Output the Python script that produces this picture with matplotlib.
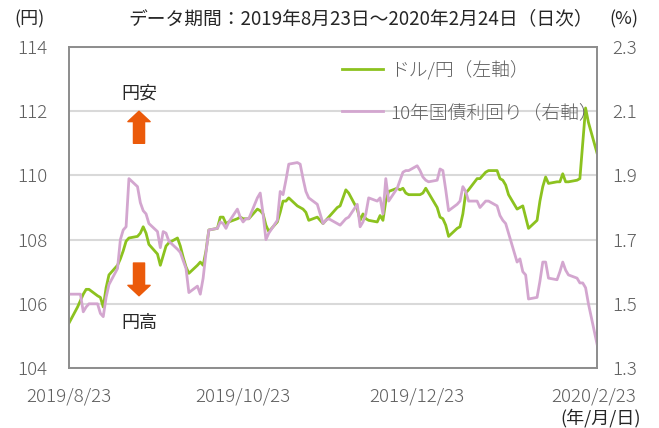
import matplotlib
matplotlib.use('Agg')
import matplotlib.pyplot as plt
import pandas as pd

# Set text format
plt.rcParams['font.family'] = ['Noto Sans CJK JP', 'DejaVu Sans']
plt.rcParams['font.size'] = 13

# Daily (weekday) data, 2019/8/23 - 2020/2/24
start_date = '2019-08-23'
end_date = '2020-02-24'

# USD/JPY (left axis), one row per week
usdjpy = [105.4,
          105.9, 106.1, 106.3, 106.45, 106.45,
          106.25, 106.2, 105.9, 106.5, 106.9,
          107.2, 107.4, 107.65, 107.95, 108.05,
          108.1, 108.2, 108.4, 108.2, 107.85,
          107.55, 107.2, 107.5, 107.8, 107.9,
          108.05, 107.8, 107.45, 107.15, 106.95,
          107.2, 107.3, 107.2, 107.65, 108.3,
          108.35, 108.7, 108.7, 108.5, 108.55,
          108.65, 108.7, 108.65, 108.65, 108.65,
          108.95, 108.9, 108.8, 108.45, 108.25,
          108.55, 108.85, 109.2, 109.2, 109.3,
          109.05, 109.0, 108.95, 108.85, 108.6,
          108.7, 108.6, 108.5, 108.6, 108.7,
          109.0, 109.05, 109.3, 109.55, 109.45,
          108.95, 108.6, 108.8, 108.65, 108.6,
          108.55, 108.75, 108.6, 109.2, 109.5,
          109.6, 109.55, 109.6, 109.45, 109.4,
          109.4, 109.4, 109.45, 109.6, 109.45,
          109.0, 108.7, 108.65, 108.45, 108.1,
          108.35, 108.4, 108.8, 109.45, 109.55,
          109.9, 109.9, 110.0, 110.1, 110.15,
          110.15, 109.9, 109.85, 109.7, 109.4,
          108.95, 109.0, 109.05, 108.7, 108.35,
          108.6, 109.2, 109.65, 109.95, 109.75,
          109.8, 109.8, 110.05, 109.8, 109.8,
          109.85, 109.9, 111.0, 112.1, 111.65,
          110.7]

# 10-year bond yield in % (right axis)
yield10 = [1.53,
           1.53, 1.53, 1.475, 1.49, 1.50,
           1.50, 1.47, 1.46, 1.52, 1.56,
           1.61, 1.70, 1.73, 1.74, 1.89,
           1.865, 1.815, 1.79, 1.78, 1.75,
           1.725, 1.675, 1.725, 1.72, 1.695,
           1.67, 1.66, 1.635, 1.61, 1.535,
           1.555, 1.53, 1.58, 1.66, 1.73,
           1.735, 1.755, 1.75, 1.735, 1.755,
           1.795, 1.77, 1.755, 1.765, 1.765,
           1.83, 1.845, 1.78, 1.70, 1.72,
           1.76, 1.85, 1.84, 1.885, 1.935,
           1.94, 1.935, 1.89, 1.85, 1.83,
           1.81, 1.78, 1.75, 1.76, 1.765,
           1.75, 1.745, 1.755, 1.765, 1.77,
           1.81, 1.74, 1.755, 1.78, 1.83,
           1.82, 1.83, 1.78, 1.89, 1.82,
           1.86, 1.885, 1.91, 1.915, 1.915,
           1.93, 1.915, 1.895, 1.885, 1.88,
           1.885, 1.92, 1.915, 1.855, 1.79,
           1.81, 1.82, 1.865, 1.85, 1.82,
           1.82, 1.80, 1.81, 1.82, 1.82,
           1.805, 1.775, 1.76, 1.75, 1.72,
           1.63, 1.64, 1.60, 1.59, 1.515,
           1.52, 1.57, 1.63, 1.63, 1.58,
           1.575, 1.60, 1.63, 1.605, 1.59,
           1.58, 1.565, 1.565, 1.55, 1.50,
           1.375]

dates = pd.bdate_range(start_date, end_date)

x_ticks = ['2019-08-23', '2019-10-23', '2019-12-23', '2020-02-23']
x_tick_labels = ['2019/8/23', '2019/10/23', '2019/12/23', '2020/2/23']
left_ticks = [104, 106, 108, 110, 112, 114]
right_ticks = [1.3, 1.5, 1.7, 1.9, 2.1, 2.3]

green = '#8cc21f'
pink = '#d3a6cf'
arrow_col = '#eb5a0a'
grey_txt = '#5f5f5f'
dark_txt = '#262626'

fig = plt.figure(figsize=(6.59, 4.28), dpi=100)
ax = fig.add_axes([69/659, 60/428, 528/659, 321/428])
ax2 = ax.twinx()

ax.set_axisbelow(True)
ax.grid(axis='y', color='#d9d9d9', linewidth=1.5)
l1, = ax.plot(dates, usdjpy, color=green, linewidth=2.0, label='ドル/円（左軸）')
l2, = ax2.plot(dates, yield10, color=pink, linewidth=2.0, label='10年国債利回り（右軸）')

ax.set_xlim(pd.Timestamp(start_date), pd.Timestamp(end_date))
ax.set_ylim(104, 114)
ax2.set_ylim(1.3, 2.3)
ax.set_yticks(left_ticks)
ax.set_yticklabels([str(t) for t in left_ticks])
ax2.set_yticks(right_ticks)
ax2.set_yticklabels(['%.1f' % t for t in right_ticks])
ax.set_xticks(pd.to_datetime(x_ticks))
ax.set_xticklabels(x_tick_labels)

ax.tick_params(axis='y', length=0, pad=15.5, labelcolor=grey_txt, labelsize=13.5)
ax.tick_params(axis='x', length=0, pad=14, labelcolor=grey_txt, labelsize=13.5)
ax2.tick_params(axis='y', length=0, pad=11, labelcolor=grey_txt, labelsize=13.5)
for lbl in ax.get_xticklabels() + ax.get_yticklabels() + ax2.get_yticklabels():
    lbl.set_fontweight('light')

for a in (ax, ax2):
    for s in a.spines.values():
        s.set_color('#8c8c8c')
        s.set_linewidth(1.2)

leg = ax2.legend(handles=[l1, l2], loc='upper left',
                 bbox_to_anchor=(342/659, 1 - 60/428), bbox_transform=fig.transFigure,
                 frameon=False, fontsize=13.5, handlelength=2.2, handletextpad=0.35,
                 labelspacing=1.3, borderpad=0, borderaxespad=0)
for t in leg.get_texts():
    t.set_color(grey_txt)
    t.set_fontweight('light')

# Yen weaker / stronger markers
ax.text(0.1326, 0.855, '円安', transform=ax.transAxes, ha='center', va='center', fontsize=13, color=dark_txt)
ax.text(0.1326, 0.14, '円高', transform=ax.transAxes, ha='center', va='center', fontsize=13, color=dark_txt)
arrow_style = 'simple,head_width=1.6,head_length=0.75,tail_width=0.8'
ax.annotate('', xy=(0.1326, 0.80), xytext=(0.1326, 0.70), xycoords='axes fraction',
            arrowprops=dict(arrowstyle=arrow_style, color=arrow_col, shrinkA=0, shrinkB=0, mutation_scale=10))
ax.annotate('', xy=(0.1326, 0.225), xytext=(0.1326, 0.327), xycoords='axes fraction',
            arrowprops=dict(arrowstyle=arrow_style, color=arrow_col, shrinkA=0, shrinkB=0, mutation_scale=10))

fig.text(30/659, 1 - 19/428, '(円)', ha='center', va='center', fontsize=13, color=dark_txt)
fig.text(361/659, 1 - 19/428, 'データ期間：2019年8月23日～2020年2月24日（日次）', ha='center', va='center',
         fontsize=13.5, color=dark_txt)
fig.text(624/659, 1 - 19/428, '(%)', ha='center', va='center', fontsize=13, color=dark_txt)
fig.text(601/659, 1 - 418/428, '(年/月/日)', ha='center', va='center', fontsize=13, color=dark_txt)

fig.savefig('out.png', dpi=100)
